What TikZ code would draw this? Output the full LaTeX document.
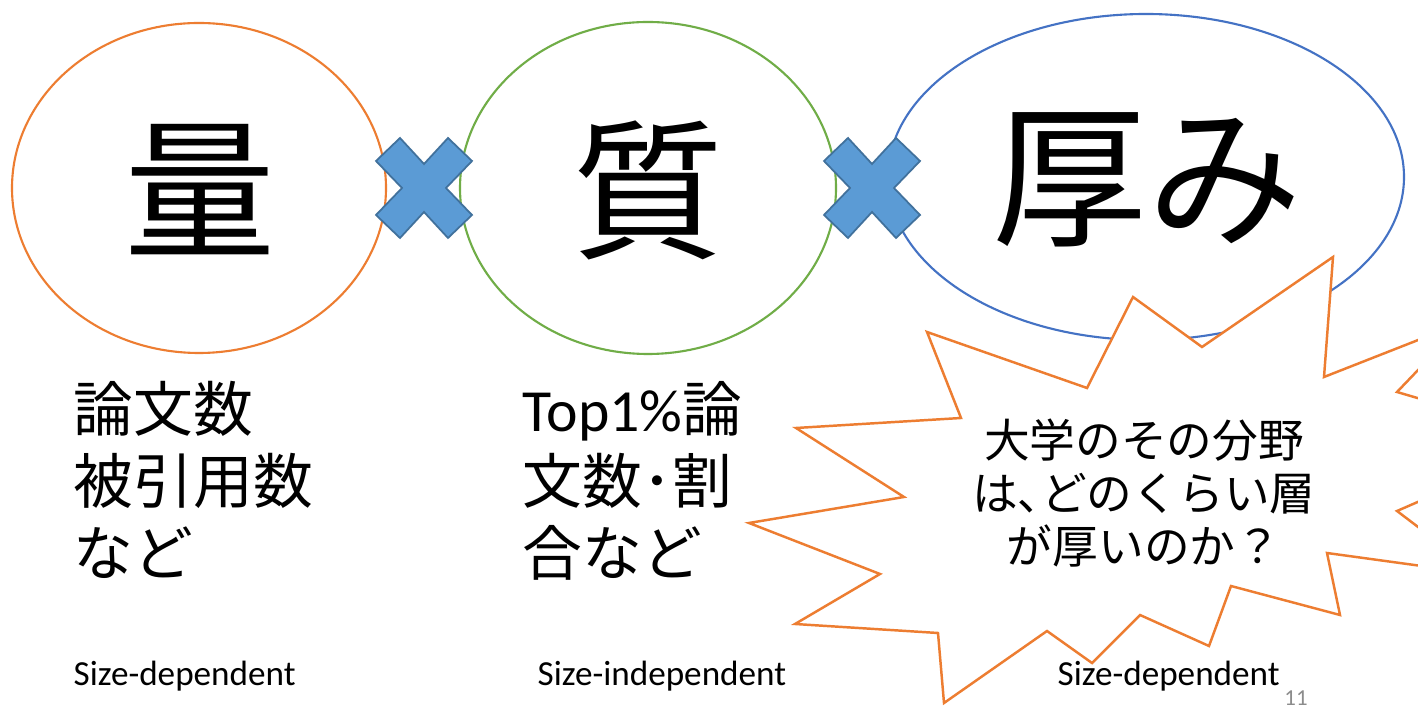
\documentclass[tikz,border=0pt]{standalone}
\usepackage{fontspec}
\setmainfont{Carlito}
\newfontfamily\jfont{Noto Sans CJK JP}

\definecolor{ryoorange}{HTML}{ED7D31}
\definecolor{shitsugreen}{HTML}{70AD47}
\definecolor{atsumiblue}{HTML}{4472C4}
\definecolor{crossfill}{HTML}{5B9BD5}
\definecolor{crossline}{HTML}{41719C}

\def\ellRyo{(199,188) ellipse [x radius=187, y radius=165]}
\def\ellShitsu{(648,188) ellipse [x radius=188, y radius=166]}
\def\ellAtsumi{(1146,177) ellipse [x radius=258, y radius=163]}
\def\timesmark{(-24,-50) -- (0,-24) -- (24,-50) -- (48,-27) -- (22,0) -- (48,27) -- (24,50) -- (0,24) -- (-24,50) -- (-48,27) -- (-22,0) -- (-48,-27) -- cycle}
\def\burst{(927,332) -- (1087,388) -- (1133,297) -- (1202,347) -- (1333,257) -- (1324,377)
  -- (1464,322) -- (1397,392) -- (1560,440) -- (1397,511) -- (1480,574) -- (1327,553)
  -- (1340,615) -- (1231,586) -- (1209,646) -- (1140,615) -- (1092,663) -- (1047,631)
  -- (944,703) -- (938,633) -- (795,624) -- (880,574) -- (749,523) -- (904,497)
  -- (796,428) -- (961,418) -- cycle}

\tikzset{
  bigchar/.style={inner sep=0pt, font=\jfont\fontsize{43pt}{48pt}\selectfont},
  itemlist/.style={inner sep=0pt, align=left, anchor=west, font=\jfont\fontsize{17pt}{20.5pt}\selectfont},
  sizelabel/.style={inner sep=0pt, anchor=base west, font=\fontsize{10pt}{12pt}\selectfont},
  timesbox/.style={fill=crossfill, draw=crossline, line width=0.5pt, line join=miter},
}

\begin{document}
\begin{tikzpicture}[x=0.01cm, y=-0.01cm]
    \useasboundingbox (0,0) rectangle (1418,707);
    \fill[white] (0,0) rectangle (1418,707);
    \clip (0,0) rectangle (1418,707);
    % the three factors
    \draw[ryoorange, line width=0.6pt] \ellRyo;
    \draw[shitsugreen, line width=0.6pt] \ellShitsu;
    \draw[atsumiblue, line width=0.6pt] \ellAtsumi;
    \draw[timesbox, shift={(424,188)}] \timesmark;
    \draw[timesbox, shift={(872,188)}] \timesmark;
    \node (ryo) at (200,190) [bigchar] {量};
    \node (shitsu) at (648,190) [bigchar] {質};
    \node (atsumi) at (1147,180) [bigchar, font=\jfont\fontsize{44pt}{48pt}\selectfont] {厚み};
    \node (ryolist) at (73,480) [itemlist] {論文数\\被引用数\\など};
    \node (shitsulist) at (522,481) [itemlist] {{\normalfont Top1\%}論\\文数･割\\合など};
    % explosion over the third circle
    \filldraw[fill=white, draw=ryoorange, line width=0.7pt, line join=miter] \burst;
    \node (question) at (1144,493) [align=center, inner sep=0pt, font=\jfont\fontsize{13pt}{15pt}\selectfont] {大学のその分野\\は､どのくらい層\\が厚いのか？};
    \node (ryosize) at (73,686) [sizelabel] {Size-dependent};
    \node (shitsusize) at (537,686) [sizelabel] {Size-independent};
    \node (atsumisize) at (1057,686) [sizelabel] {Size-dependent};
    \node (pagenum) at (1296,706) [anchor=base, inner sep=0pt, text=black!45, font=\fontsize{6.5pt}{8pt}\selectfont] {11};
\end{tikzpicture}
\end{document}
